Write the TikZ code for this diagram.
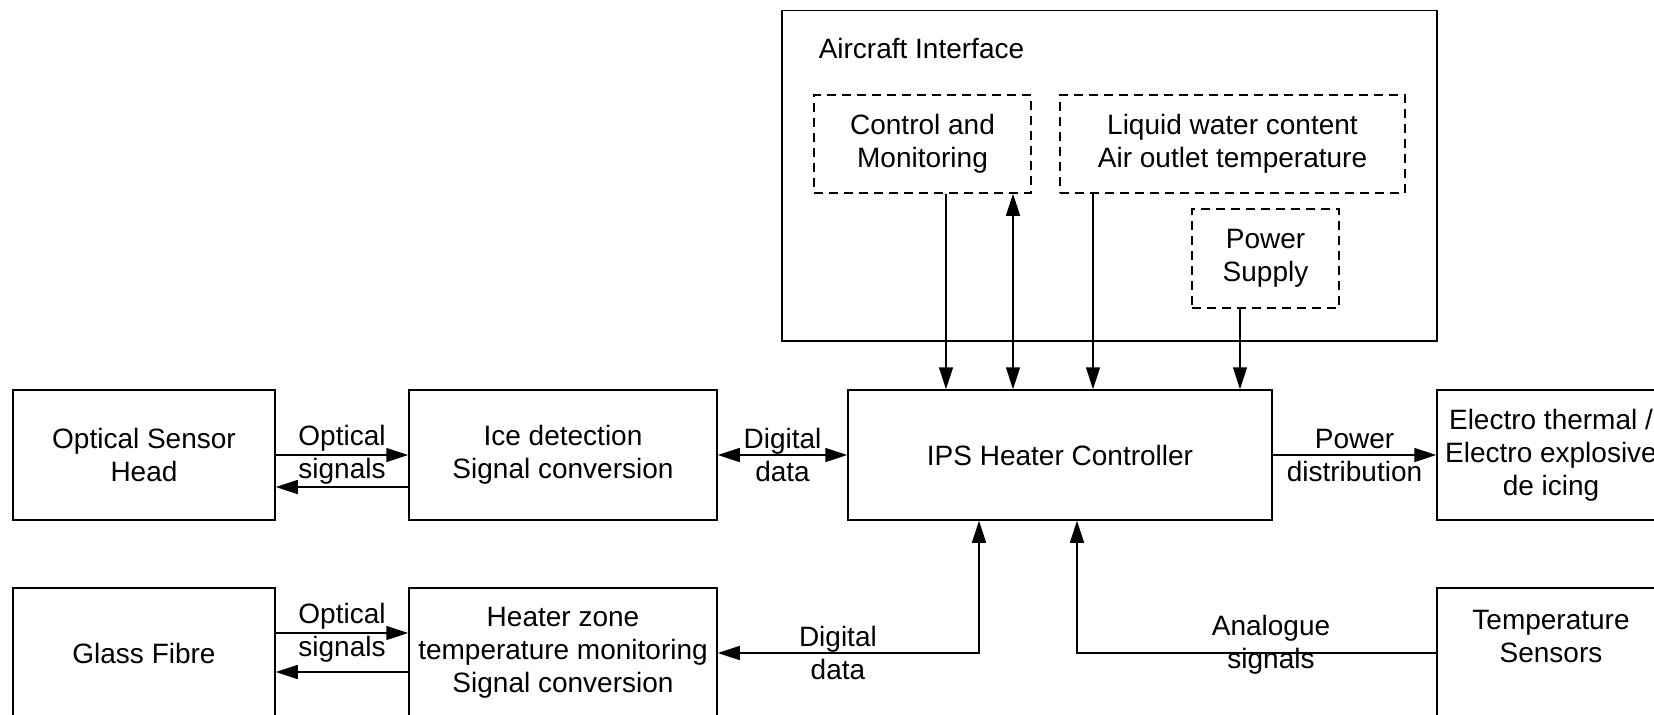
\documentclass[tikz,border=0pt]{standalone}
\usepackage{fontspec}
\setmainfont{Liberation Sans}
\usetikzlibrary{arrows.meta}

\begin{document}
\begin{tikzpicture}[x=0.5pt, y=-0.5pt, line width=0.75pt, >={Triangle[length=11pt,width=7pt]}]
        \tikzstyle{block}=[draw,rectangle,align=center,inner sep=2pt,font=\fontsize{14}{16.5}\selectfont]
        \tikzstyle{group}=[block,dash pattern=on 4.5pt off 3pt]
        \tikzstyle{lbl}=[align=center,inner sep=0pt,font=\fontsize{14}{16.5}\selectfont]

        \useasboundingbox (0,0) rectangle (1654,714);

        % aircraft side
        \node[block,minimum width=327.5pt,minimum height=165.25pt] (AI) at (1109.5,175.75) {};
        \node[lbl,anchor=west] (AI_t) at (818,48.5) {Aircraft Interface};
        \node[group,minimum width=108.5pt,minimum height=49pt] (CM) at (922.5,144) {Control and\\Monitoring};
        \node[group,minimum width=172.5pt,minimum height=49pt] (LWC) at (1232.5,144) {Liquid water content\\Air outlet temperature};
        \node[group,minimum width=73.5pt,minimum height=49.5pt] (PS) at (1265.5,258.5) {Power\\Supply};

        % main row
        \node[block,minimum width=131pt,minimum height=65pt] (OSH) at (144,455) {Optical Sensor\\Head};
        \node[block,minimum width=154pt,minimum height=65pt] (ICE) at (563,455) {Ice detection\\Signal conversion};
        \node[block,minimum width=212pt,minimum height=65pt] (IPS) at (1060,455) {IPS Heater Controller};
        \node[block,minimum width=114pt,minimum height=65pt] (EL) at (1551,455) {Electro thermal /\\Electro explosive\\de icing};

        % bottom row
        \node[block,minimum width=131pt,minimum height=65pt] (GF) at (144,653) {Glass Fibre};
        \node[block,minimum width=154pt,minimum height=65pt] (HZ) at (563,653) {Heater zone\\temperature monitoring\\Signal conversion};
        \node[block,minimum width=114pt,minimum height=65pt] (TS) at (1551,653) {Temperature\\Sensors\\\mbox{}};

        \draw[->] (OSH) -- (ICE) node[lbl,midway] {Optical\\signals};
        \draw[->] ([yshift=-16pt]ICE.west) -- ([yshift=-16pt]OSH.east);
        \draw[<->] (ICE) -- (IPS) node[lbl,midway] {Digital\\data};
        \draw[->] (IPS) -- (EL) node[lbl,midway] {Power\\distribution};

        \draw[->] ([yshift=10pt]GF.east) -- ([yshift=10pt]HZ.west) node[lbl,midway] {Optical\\signals};
        \draw[->] ([yshift=-9.5pt]HZ.west) -- ([yshift=-9.5pt]GF.east);
        \draw[<->] ([xshift=-40.5pt]IPS.south) |- (HZ.east) node[lbl,pos=0.77] {Digital\\data};
        \draw[->] (TS.west) -| ([xshift=8.5pt]IPS.south) node[lbl,pos=0.23,yshift=4pt] {Analogue\\signals};

        \draw[->] ([xshift=11.75pt]CM.south) -- ([xshift=11.75pt]CM.south |- IPS.north);
        \draw[<->] ([xshift=45.25pt]CM.south) -- ([xshift=45.25pt]CM.south |- IPS.north);
        \draw[->] ([xshift=-69.75pt]LWC.south) -- ([xshift=-69.75pt]LWC.south |- IPS.north);
        \draw[->] ([xshift=-12.75pt]PS.south) -- ([xshift=-12.75pt]PS.south |- IPS.north);
    \end{tikzpicture}
\end{document}
